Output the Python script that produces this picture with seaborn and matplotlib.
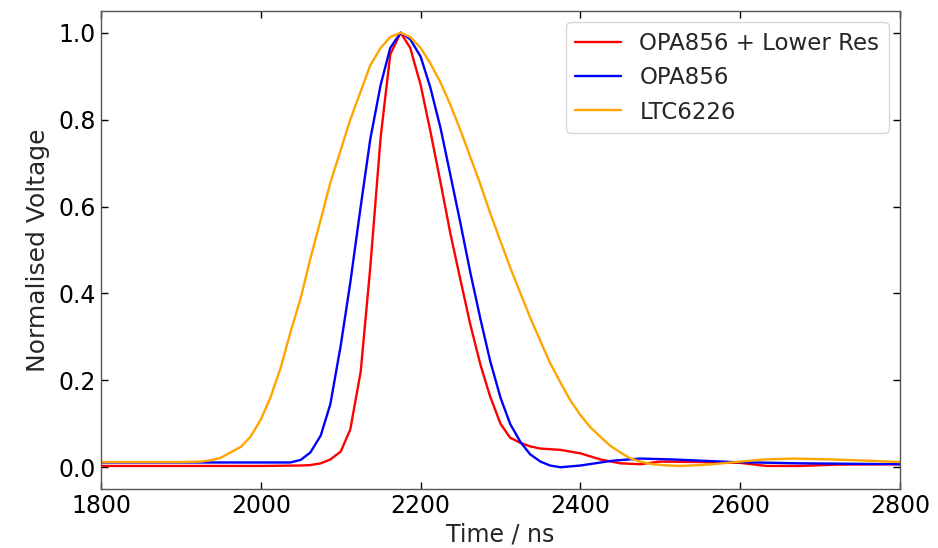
import numpy as np
import pandas as pd
import matplotlib
matplotlib.use("Agg")
import matplotlib.pyplot as plt
import seaborn as sns

# OPA856 + Lower Res (red)
t_red = [1800, 1900, 2000, 2050, 2062, 2075, 2087, 2100, 2112, 2125, 2137, 2150,
         2162, 2175, 2187, 2200, 2212, 2225, 2237, 2250, 2262, 2275, 2287, 2300,
         2312, 2325, 2337, 2350, 2375, 2400, 2425, 2450, 2475, 2500, 2550, 2600,
         2633, 2675, 2720, 2800]
v_red = [0.003, 0.003, 0.003, 0.004, 0.005, 0.009, 0.018, 0.036, 0.087, 0.22, 0.46, 0.76,
         0.95, 1.0, 0.965, 0.88, 0.775, 0.655, 0.54, 0.43, 0.33, 0.235, 0.163, 0.10,
         0.068, 0.056, 0.048, 0.043, 0.040, 0.032, 0.018, 0.009, 0.007, 0.013, 0.012, 0.010,
         0.003, 0.003, 0.006, 0.007]

# OPA856 (blue)
t_blue = [1800, 2000, 2037, 2050, 2062, 2075, 2087, 2100, 2112, 2125, 2137, 2150,
          2162, 2175, 2187, 2200, 2212, 2225, 2237, 2250, 2262, 2275, 2287, 2300,
          2312, 2325, 2337, 2350, 2362, 2375, 2400, 2440, 2475, 2515, 2590, 2675, 2800]
v_blue = [0.011, 0.011, 0.011, 0.017, 0.034, 0.073, 0.145, 0.28, 0.425, 0.60, 0.755, 0.88,
          0.965, 1.0, 0.985, 0.945, 0.875, 0.78, 0.675, 0.56, 0.45, 0.34, 0.245, 0.16,
          0.10, 0.058, 0.03, 0.013, 0.004, 0.0, 0.004, 0.015, 0.02, 0.018, 0.012, 0.009, 0.007]

# LTC6226 (orange)
t_orange = [1800, 1900, 1925, 1940, 1950, 1962, 1975, 1987, 2000, 2012, 2025, 2037,
            2050, 2062, 2075, 2087, 2100, 2112, 2125, 2137, 2150, 2162, 2175, 2187,
            2200, 2212, 2225, 2237, 2250, 2262, 2275, 2287, 2300, 2312, 2325, 2337,
            2350, 2362, 2375, 2387, 2400, 2412, 2425, 2437, 2450, 2462, 2475, 2490,
            2510, 2525, 2550, 2566, 2600, 2630, 2666, 2716, 2760, 2800]
v_orange = [0.012, 0.012, 0.013, 0.017, 0.022, 0.034, 0.047, 0.07, 0.11, 0.16, 0.23, 0.31,
            0.39, 0.48, 0.57, 0.655, 0.73, 0.80, 0.865, 0.925, 0.965, 0.99, 1.0, 0.99,
            0.965, 0.93, 0.885, 0.835, 0.775, 0.715, 0.65, 0.585, 0.52, 0.46, 0.40, 0.345,
            0.29, 0.24, 0.195, 0.155, 0.12, 0.093, 0.07, 0.05, 0.034, 0.021, 0.013, 0.007,
            0.004, 0.003, 0.005, 0.007, 0.013, 0.018, 0.02, 0.018, 0.015, 0.012]

labels = ["OPA856 + Lower Res", "OPA856", "LTC6226"]
colors = ["red", "blue", "orange"]

df = pd.concat([
    pd.DataFrame({"t": t_red, "v": v_red, "s": labels[0]}),
    pd.DataFrame({"t": t_blue, "v": v_blue, "s": labels[1]}),
    pd.DataFrame({"t": t_orange, "v": v_orange, "s": labels[2]}),
], ignore_index=True)

sns.set_style("white")
plt.rcParams["font.family"] = ["DejaVu Sans"]

fig = plt.figure(figsize=(9.38, 5.48), dpi=100)
ax = fig.add_axes([0.1077, 0.1077, 0.8518, 0.8723])

sns.lineplot(data=df, x="t", y="v", hue="s", hue_order=labels,
             palette=dict(zip(labels, colors)), sort=False, estimator=None,
             linewidth=1.7, ax=ax)

ax.set_xlim(1800, 2800)
ax.set_ylim(-0.05, 1.05)
ax.set_xticks([1800, 2000, 2200, 2400, 2600, 2800])
ax.set_yticks([0.0, 0.2, 0.4, 0.6, 0.8, 1.0])
ax.set_yticklabels(["0.0", "0.2", "0.4", "0.6", "0.8", "1.0"])
ax.tick_params(direction="in", labelsize=17, length=5, width=1,
               right=True, top=True, left=True, bottom=True, colors="black")
ax.set_xlabel("Time / ns", fontsize=17, labelpad=3)
ax.set_ylabel("Normalised Voltage", fontsize=18, labelpad=6)
for sp in ax.spines.values():
    sp.set_color("#555555")
    sp.set_linewidth(1)

leg = ax.legend(loc="upper right", fontsize=16.5, frameon=True)
leg.set_title(None)

fig.savefig("out.png", dpi=100)
